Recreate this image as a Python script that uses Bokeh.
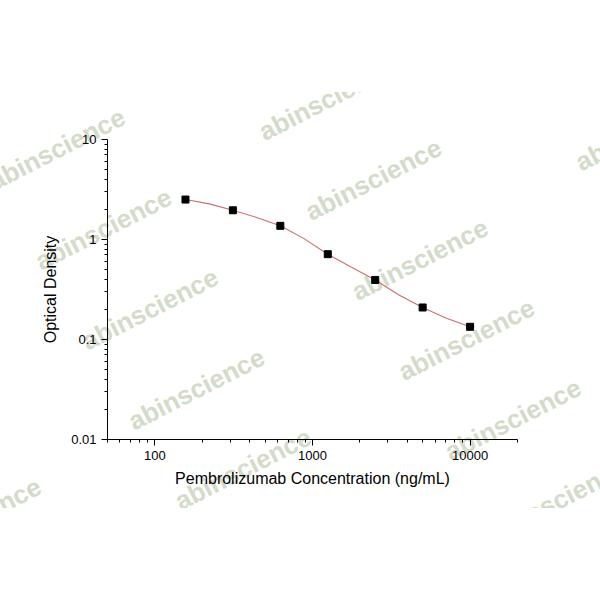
import math
from bokeh.plotting import figure
from bokeh.models import (FixedTicker, CustomJSTickFormatter, Spacer,
                          ColumnDataSource, Range1d)
from bokeh.core.properties import value
from bokeh.layouts import column
from bokeh.embed import file_html
from bokeh.resources import INLINE

# ---- data ----
conc = [156.25, 312.5, 625, 1250, 2500, 5000, 10000]
od = [2.51, 1.96, 1.37, 0.713, 0.394, 0.209, 0.134]

curve_conc = [156.25, 221, 312.5, 442, 625, 884, 1250, 1768, 2500, 3536, 5000, 7071, 10000]
curve_od = [2.51, 2.27, 1.96, 1.66, 1.37, 1.02, 0.713, 0.528, 0.394, 0.279, 0.209, 0.163, 0.134]

x_major = [100, 1000, 10000]
x_minor = [50, 60, 70, 80, 90, 200, 300, 400, 500, 600, 700, 800, 900,
           2000, 3000, 4000, 5000, 6000, 7000, 8000, 9000, 20000]
y_major = [0.01, 0.1, 1, 10]
y_minor = [0.02, 0.03, 0.04, 0.05, 0.06, 0.07, 0.08, 0.09,
           0.2, 0.3, 0.4, 0.5, 0.6, 0.7, 0.8, 0.9,
           2, 3, 4, 5, 6, 7, 8, 9]

x_title = "Pembrolizumab Concentration (ng/mL)"
y_title = "Optical Density"
watermark = "abinscience"

FONT = "Liberation Sans"

p = figure(width=600, height=416, x_axis_type="log", y_axis_type="log",
           x_range=Range1d(50, 20000), y_range=Range1d(0.01, 10),
           output_backend="svg", toolbar_location=None,
           min_border_left=107, min_border_right=83,
           min_border_top=47, min_border_bottom=69)
p.outline_line_color = None
p.background_fill_color = "white"
p.border_fill_color = "white"
p.grid.visible = False

# ---- watermark (decoration) ----
X0, XW, Y0 = 107.0, 410.0, 139.0
def px_to_data(px, py):
    return 50 * 400 ** ((px - X0) / XW), 10 ** (1 - (py - Y0) / 100.0)

base = (373.0, 179.0)
v1 = (46.5, 80.0)
v2 = (270.0, -49.5)
wm_x, wm_y = [], []
for i in range(-4, 6):
    for j in range(-3, 3):
        cx = base[0] + i * v1[0] + j * v2[0]
        cy = base[1] + i * v1[1] + j * v2[1]
        if cx + 80 < 0 or cx - 80 > 600 or cy + 50 < 85 or cy - 50 > 515:
            continue
        xd, yd = px_to_data(cx, cy)
        wm_x.append(xd)
        wm_y.append(yd)
wm_src = ColumnDataSource(dict(x=wm_x, y=wm_y, t=[watermark] * len(wm_x)))
p.text("x", "y", text="t", source=wm_src, angle=math.radians(27),
       text_align="center", text_baseline="middle",
       text_font=value(FONT), text_font_size="26px", text_font_style="bold",
       text_color="#d4dbca", level="guide")

# ---- curve and points (drawn above the watermark) ----
src_c = ColumnDataSource(dict(x=curve_conc, y=curve_od))
src_p = ColumnDataSource(dict(x=conc, y=od))
p.line("x", "y", source=src_c, line_color="#c87070", line_width=1.1,
       level="overlay")
p.scatter("x", "y", source=src_p, marker="square", size=7,
          fill_color="black", line_color="black", level="overlay")

fmt = CustomJSTickFormatter(code="return tick.toString();")
p.xaxis.ticker = FixedTicker(ticks=x_major, minor_ticks=x_minor)
p.yaxis.ticker = FixedTicker(ticks=y_major, minor_ticks=y_minor)
for ax in (p.xaxis[0], p.yaxis[0]):
    ax.formatter = fmt
    ax.axis_line_color = "black"
    ax.major_tick_line_color = "black"
    ax.minor_tick_line_color = "black"
    ax.major_tick_in = 0
    ax.major_tick_out = 6
    ax.minor_tick_in = 0
    ax.minor_tick_out = 3
    ax.major_label_text_font = FONT
    ax.major_label_text_font_size = "13px"
    ax.major_label_text_color = "black"
    ax.axis_label_text_font = FONT
    ax.axis_label_text_font_size = "16px"
    ax.axis_label_text_font_style = "normal"
    ax.axis_label_text_color = "black"
    ax.major_label_standoff = 5

p.xaxis.axis_label = x_title
p.yaxis.axis_label = y_title
p.xaxis.axis_label_standoff = 7
p.yaxis.axis_label_standoff = 9

layout = column(Spacer(width=600, height=92), p)
open("out.html", "w").write(file_html(layout, INLINE))
